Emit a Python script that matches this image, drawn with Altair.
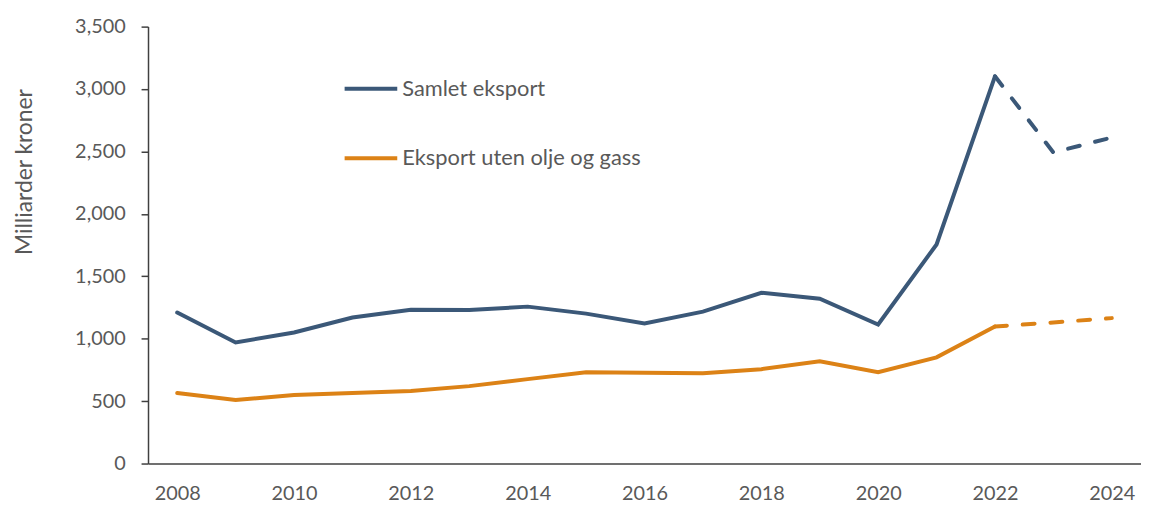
import altair as alt
import pandas as pd

years = list(range(2008, 2025))
samlet = [1210, 970, 1050, 1170, 1232, 1230, 1257, 1201, 1122, 1217, 1368, 1320, 1114, 1755, 3102, 2492, 2612]
uten = [565, 509, 549, 565, 581, 620, 676, 732, 728, 724, 756, 819, 732, 851, 1098, 1130, 1165]
series_names = ["Samlet eksport", "Eksport uten olje og gass"]
colors = ["#3B5878", "#DC8216"]
x_ticks = [2008, 2010, 2012, 2014, 2016, 2018, 2020, 2022, 2024]
y_ticks = [0, 500, 1000, 1500, 2000, 2500, 3000, 3500]
last_actual = 2022

rows = []
for name, vals in zip(series_names, [samlet, uten]):
    for y, v in zip(years, vals):
        rows.append({"year": y, "value": v, "series": name})
df = pd.DataFrame(rows)

FONT = "Lato"
TXT = "#595959"

x_enc = alt.X("year:Q",
              scale=alt.Scale(domain=[2007.5, 2024.5], nice=False, zero=False),
              axis=alt.Axis(values=x_ticks, format="d", ticks=False, grid=False,
                            labelPadding=20, labelFontSize=20, labelColor=TXT,
                            labelFont=FONT, title=None, domainColor="#404040",
                            domainWidth=1.5, labelFlush=False))
y_enc = alt.Y("value:Q",
              scale=alt.Scale(domain=[0, 3500], nice=False),
              axis=alt.Axis(values=y_ticks, format=",d", grid=False, tickSize=7,
                            tickColor="#404040", tickWidth=1.5,
                            labelPadding=16, labelFontSize=20, labelColor=TXT,
                            labelFont=FONT, domainColor="#404040", domainWidth=1.5,
                            title="Milliarder kroner", titleFontSize=23,
                            titleFontWeight="normal", titleColor=TXT, titleFont=FONT,
                            titleAngle=-90, titleX=-124, titleY=146,
                            titleAlign="center", titleBaseline="middle"))
color_enc = alt.Color("series:N",
                      scale=alt.Scale(domain=series_names, range=colors),
                      legend=alt.Legend(orient="none", legendX=196, legendY=34,
                                        title=None, symbolType="stroke",
                                        symbolSize=2809, symbolStrokeWidth=4,
                                        labelFontSize=22, labelColor=TXT,
                                        labelFont=FONT, labelOffset=3,
                                        labelLimit=500,
                                        rowPadding=30, padding=0))

base = alt.Chart(df).encode(x=x_enc, y=y_enc, color=color_enc)

solid = base.transform_filter(alt.datum.year <= last_actual).mark_line(
    strokeWidth=4, strokeJoin="miter", strokeCap="round")
dashed = base.transform_filter(alt.datum.year >= last_actual).mark_line(
    strokeWidth=4, strokeDash=[12, 16], strokeCap="round")

chart = alt.layer(solid, dashed).properties(
    width=1000, height=440,
    autosize=alt.AutoSizeParams(type="none"),
    padding={"left": 141, "top": 17, "right": 0, "bottom": 40},
).configure_view(stroke=None)

chart.save("out.html", embed_options={"renderer": "svg", "actions": False})
